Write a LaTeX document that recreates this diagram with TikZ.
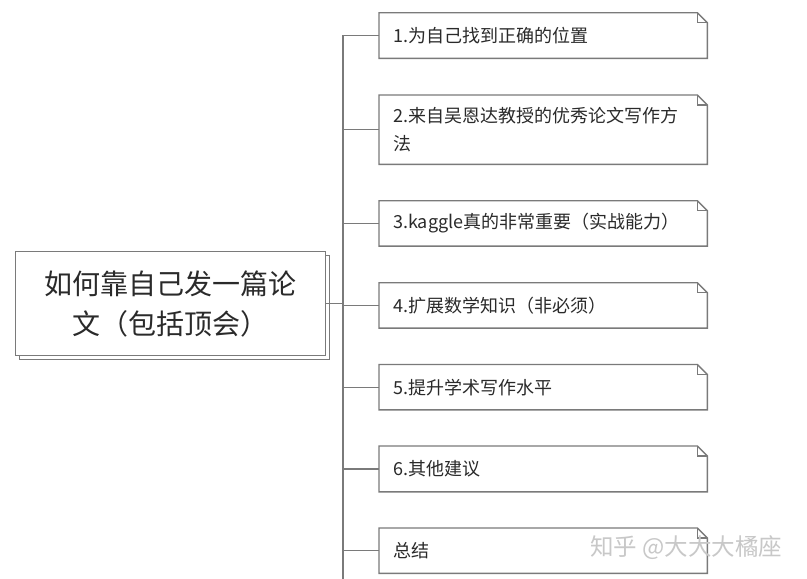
\documentclass[tikz,border=0pt]{standalone}
\usepackage{fontspec}
\setmainfont{Noto Sans CJK SC}
\definecolor{linec}{HTML}{7A7A7A}
\definecolor{txt}{HTML}{2A2A2A}
\definecolor{wm}{HTML}{C8C8C8}
\newcommand\dogearbox[1]{%
  \draw[boxline] (#1.north west) -- ([xshift=-10pt]#1.north east) -- ([yshift=-10pt]#1.north east) -- (#1.south east) -- (#1.south west) -- cycle;
  \draw[boxline] ([xshift=-10pt]#1.north east) -- ([xshift=-10pt,yshift=-10pt]#1.north east) -- ([yshift=-10pt]#1.north east);}
\begin{document}
\begin{tikzpicture}[x=1pt,y=-1pt,
  boxline/.style={draw=linec, line width=1.4pt, line join=miter},
  childbox/.style={draw=none, anchor=north west, minimum width=328pt, text width=300pt,
    inner xsep=14pt, inner ysep=0pt, align=left, text=txt,
    font=\fontsize{18}{28}\selectfont},
  rootbox/.style={draw=linec, line width=1.4pt, fill=white, anchor=north west,
    minimum width=310pt, minimum height=104pt, inner sep=0pt, align=center, text=txt,
    font=\fontsize{28}{40}\selectfont},
  edge/.style={draw=linec, line width=1.4pt}]
\useasboundingbox (0,0) rectangle (807,579);
\fill[white] (0,0) rectangle (807,579);

% trunk
\coordinate (ttop) at (343,35);
\coordinate (tbot) at (343,579);
\draw[edge] (ttop) -- (tbot);

% root
\node[rootbox] (rootback) at (19,255) {};
\node[rootbox] (root) at (15,251) {如何靠自己发一篇论\\文（包括顶会）};
\draw[edge] (root.east) -- (root.east -| ttop);

% children
\node[childbox, minimum height=45.3pt] (c1) at (379,12.7) {1.为自己找到正确的位置};
\node[childbox, minimum height=69pt] (c2) at (379,95) {2.来自吴恩达教授的优秀论文写作方\\法};
\node[childbox, minimum height=45pt] (c3) at (379,200.7) {3.kaggle真的非常重要（实战能力）};
\node[childbox, minimum height=45pt] (c4) at (379,282.7) {4.扩展数学知识（非必须）};
\node[childbox, minimum height=45pt] (c5) at (379,364.5) {5.提升学术写作水平};
\node[childbox, minimum height=45.5pt] (c6) at (379,446) {6.其他建议};
\node[childbox, minimum height=45pt] (c7) at (379,528) {总结};

\foreach \n in {c1,c2,c3,c4,c5,c6,c7}{
  \dogearbox{\n}
  \draw[edge] (\n.west -| ttop) -- (\n.west);
}

% watermark
\node[text=wm, font=\fontsize{23.5}{26}\selectfont, anchor=west, inner sep=0pt] (wmark) at (590,548) {知乎 @大大大橘座};
\end{tikzpicture}
\end{document}
